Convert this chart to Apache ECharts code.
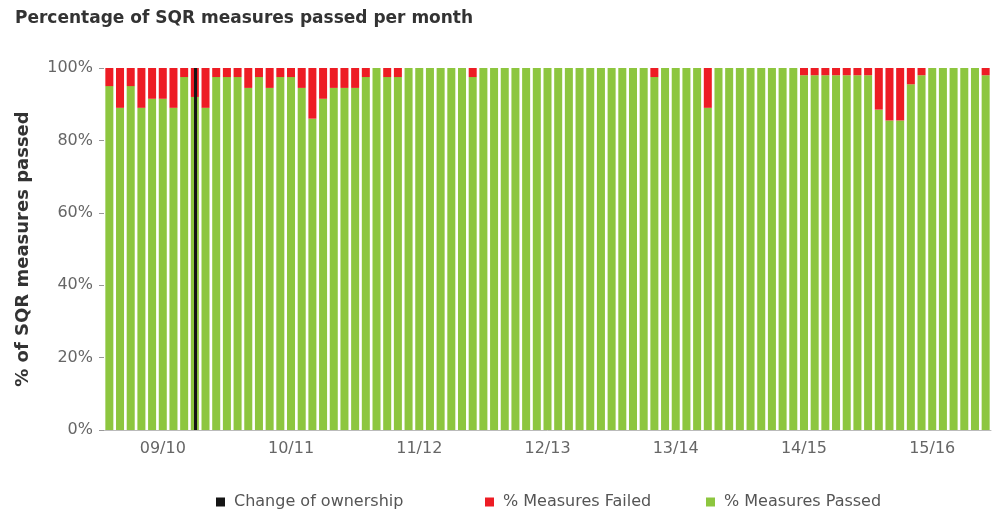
<!DOCTYPE html>
<html>
<head>
<meta charset="utf-8">
<script src="https://cdn.jsdelivr.net/npm/echarts@6/dist/echarts.min.js"></script>
<style>
	html, body { margin: 0; padding: 0; background: #ffffff; }
	#chart { width: 992px; height: 516px; }
</style>
</head>
<body>
<div id="chart"></div>
<script>
const months = [
	'Apr 09', 'May 09', 'Jun 09', 'Jul 09', 'Aug 09', 'Sep 09', 'Oct 09', 'Nov 09', 'Dec 09', 'Jan 10', 'Feb 10', 'Mar 10',
	'Apr 10', 'May 10', 'Jun 10', 'Jul 10', 'Aug 10', 'Sep 10', 'Oct 10', 'Nov 10', 'Dec 10', 'Jan 11', 'Feb 11', 'Mar 11',
	'Apr 11', 'May 11', 'Jun 11', 'Jul 11', 'Aug 11', 'Sep 11', 'Oct 11', 'Nov 11', 'Dec 11', 'Jan 12', 'Feb 12', 'Mar 12',
	'Apr 12', 'May 12', 'Jun 12', 'Jul 12', 'Aug 12', 'Sep 12', 'Oct 12', 'Nov 12', 'Dec 12', 'Jan 13', 'Feb 13', 'Mar 13',
	'Apr 13', 'May 13', 'Jun 13', 'Jul 13', 'Aug 13', 'Sep 13', 'Oct 13', 'Nov 13', 'Dec 13', 'Jan 14', 'Feb 14', 'Mar 14',
	'Apr 14', 'May 14', 'Jun 14', 'Jul 14', 'Aug 14', 'Sep 14', 'Oct 14', 'Nov 14', 'Dec 14', 'Jan 15', 'Feb 15', 'Mar 15',
	'Apr 15', 'May 15', 'Jun 15', 'Jul 15', 'Aug 15', 'Sep 15', 'Oct 15', 'Nov 15', 'Dec 15', 'Jan 16', 'Feb 16'
];

const yearLabels = ['09/10', '10/11', '11/12', '12/13', '13/14', '14/15', '15/16'];

// % passed per month
const passed = [
	95, 89, 95, 89, 91.5, 91.5, 89, 97.5, 92, 89, 97.5, 97.5,
	97.5, 94.5, 97.5, 94.5, 97.5, 97.5, 94.5, 86, 91.5, 94.5, 94.5, 94.5,
	97.5, 100, 97.5, 97.5, 100, 100, 100, 100, 100, 100, 97.5, 100,
	100, 100, 100, 100, 100, 100, 100, 100, 100, 100, 100, 100,
	100, 100, 100, 97.5, 100, 100, 100, 100, 89, 100, 100, 100,
	100, 100, 100, 100, 100, 98, 98, 98, 98, 98, 98, 98,
	88.5, 85.5, 85.5, 95.5, 98, 100, 100, 100, 100, 100, 98
];

// % failed per month
const failed = [
	5, 11, 5, 11, 8.5, 8.5, 11, 2.5, 8, 11, 2.5, 2.5,
	2.5, 5.5, 2.5, 5.5, 2.5, 2.5, 5.5, 14, 8.5, 5.5, 5.5, 5.5,
	2.5, 0, 2.5, 2.5, 0, 0, 0, 0, 0, 0, 2.5, 0,
	0, 0, 0, 0, 0, 0, 0, 0, 0, 0, 0, 0,
	0, 0, 0, 2.5, 0, 0, 0, 0, 11, 0, 0, 0,
	0, 0, 0, 0, 0, 2, 2, 2, 2, 2, 2, 2,
	11.5, 14.5, 14.5, 4.5, 2, 0, 0, 0, 0, 0, 2
];

const ownershipMonth = ['Dec 09'];

const legendNames = ['Change of ownership', '% Measures Failed', '% Measures Passed'];

const chart = echarts.init(document.getElementById('chart'));

const font = '"DejaVu Sans", sans-serif';

// one legend block per entry, so each sits where the original has it
const legendLefts = [211, 480, 701];
const legends = legendNames.map((name, i) => ({
	bottom: 1,
	left: legendLefts[i],
	icon: 'rect',
	itemWidth: 9,
	itemHeight: 9,
	data: [name],
	textStyle: {
		fontFamily: font,
		fontSize: 16,
		color: '#555555',
		padding: [0, 0, 0, 4]
	}
}));

const option = {
	animation: false,
	title: {
		text: 'Percentage of SQR measures passed per month',
		left: 10,
		top: 5,
		textStyle: {
			fontFamily: font,
			fontSize: 17,
			fontWeight: 'bold',
			color: '#333333'
		}
	},
	legend: legends,
	grid: {
		left: 104,
		right: 1,
		top: 68,
		bottom: 86,
		containLabel: false
	},
	xAxis: {
		type: 'category',
		data: months,
		boundaryGap: true,
		axisLine: { lineStyle: { color: '#bbbbbb' } },
		axisTick: {
			length: 4,
			interval: (i) => i % 12 === 0,
			lineStyle: { color: '#999999' }
		},
		axisLabel: {
			interval: (i) => i % 12 === 5,
			formatter: (value, i) => yearLabels[Math.floor(i / 12)],
			margin: 11,
			fontFamily: font,
			fontSize: 16,
			color: '#666666'
		}
	},
	yAxis: {
		type: 'value',
		min: 0,
		max: 100,
		interval: 20,
		name: '% of SQR measures passed',
		nameLocation: 'middle',
		nameGap: 72,
		nameTextStyle: {
			fontFamily: font,
			fontSize: 18,
			fontWeight: 'bold',
			color: '#333333'
		},
		splitLine: { show: false },
		axisLine: { show: false },
		axisTick: { show: true, length: 5, lineStyle: { color: '#999999' } },
		axisLabel: {
			margin: 11,
			fontFamily: font,
			fontSize: 16,
			color: '#666666',
			formatter: '{value}%'
		}
	},
	series: [
		{
			name: 'Change of ownership',
			type: 'bar',
			stack: 'sqr',
			z: 5,
			itemStyle: { color: '#151515' },
			data: [],
			markLine: {
				silent: true,
				symbol: ['none', 'none'],
				label: { show: false },
				lineStyle: { color: '#151515', width: 3, type: 'solid' },
				data: ownershipMonth.map(m => ({ xAxis: m }))
			}
		},
		{
			name: '% Measures Passed',
			type: 'bar',
			stack: 'sqr',
			barCategoryGap: '25%',
			itemStyle: { color: '#8dc63f' },
			data: passed
		},
		{
			name: '% Measures Failed',
			type: 'bar',
			stack: 'sqr',
			itemStyle: { color: '#ed1c24' },
			data: failed
		}
	]
};

chart.setOption(option);
</script>
</body>
</html>
